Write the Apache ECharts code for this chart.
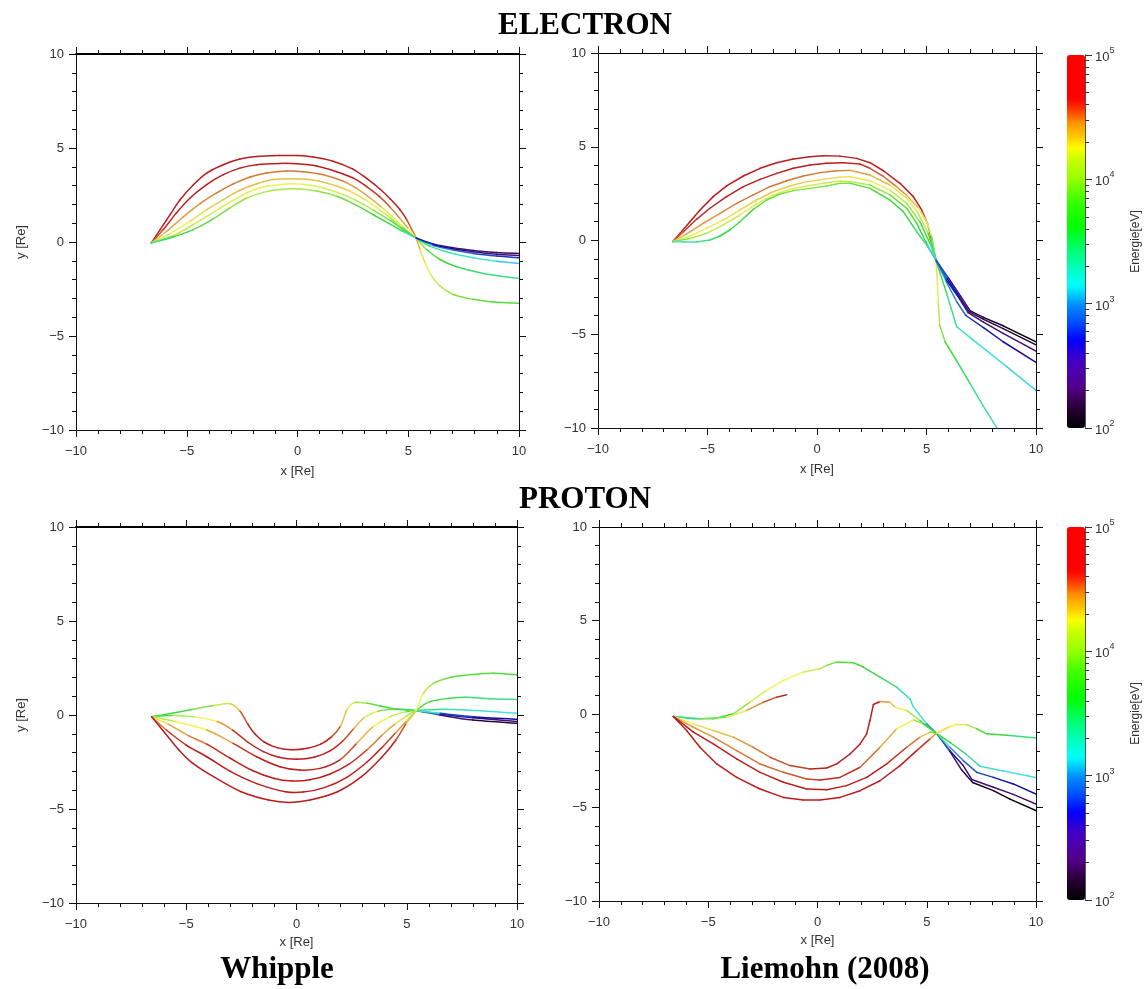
<!DOCTYPE html>
<html>
<head>
<meta charset="utf-8">
<script src="https://cdn.jsdelivr.net/npm/echarts@6/dist/echarts.min.js"></script>
<style>
  html, body { margin: 0; padding: 0; background: #ffffff; }
  #chart { width: 1145px; height: 989px; }
</style>
</head>
<body>
<div id="chart"></div>
<script>
// ---------------------------------------------------------------
// Drift trajectories. Each point: [x (Re), y (Re), log10(E / eV)]
// ---------------------------------------------------------------

// Electrons, Whipple model
const electronWhippleTracks = [
  [[-6.6,-0.05,4.65],[-6.2,0.66,4.75],[-5.75,1.46,4.8],[-5.3,2.25,4.85],[-4.7,3.05,4.9],[-4.1,3.67,4.92],[-3.35,4.11,4.95],[-2.6,4.41,4.95],[-1.85,4.55,4.95],[-0.8,4.6,4.95],[0,4.6,4.95],[0.7,4.52,4.95],[1.6,4.3,4.92],[2.5,3.88,4.9],[3.12,3.38,4.85],[3.72,2.82,4.8],[4.18,2.3,4.75],[4.63,1.72,4.7],[4.93,1.19,4.62],[5.16,0.66,4.55],[5.35,0.22,4.5],[5.53,-0.4,4.38],[5.76,-1.1,4.3],[6.06,-1.81,4.22],[6.43,-2.34,4.12],[7.03,-2.79,4.0],[7.94,-3.05,3.88],[8.84,-3.19,3.8],[10,-3.26,3.75]],
  [[-6.6,-0.05,4.45],[-6.06,0.66,4.55],[-5.46,1.55,4.62],[-4.85,2.34,4.68],[-4.1,3.05,4.7],[-3.35,3.58,4.72],[-2.6,3.93,4.72],[-1.84,4.11,4.72],[-0.79,4.18,4.72],[0,4.16,4.72],[0.86,4.04,4.72],[1.77,3.74,4.7],[2.52,3.4,4.68],[3.12,2.95,4.65],[3.72,2.4,4.6],[4.18,1.85,4.55],[4.63,1.25,4.48],[5.0,0.72,4.4],[5.35,0.22,4.25],[5.83,-0.4,3.95],[6.43,-0.93,3.75],[7.19,-1.32,3.62],[8.24,-1.63,3.52],[9.14,-1.81,3.45],[10,-1.94,3.4]],
  [[-6.6,-0.05,4.3],[-5.91,0.57,4.38],[-5.15,1.34,4.42],[-4.4,2.04,4.45],[-3.65,2.61,4.48],[-2.9,3.09,4.5],[-2.14,3.46,4.5],[-1.39,3.67,4.5],[-0.49,3.77,4.5],[0.26,3.74,4.5],[1.17,3.58,4.5],[2.07,3.23,4.48],[2.67,2.85,4.45],[3.27,2.35,4.42],[3.8,1.85,4.38],[4.25,1.38,4.3],[4.75,0.8,4.2],[5.35,0.22,4.0],[5.98,-0.22,3.6],[6.88,-0.57,3.35],[7.94,-0.84,3.22],[8.99,-1.02,3.15],[10,-1.14,3.1]],
  [[-6.6,-0.05,4.0],[-5.76,0.45,4.15],[-4.85,1.1,4.25],[-4.1,1.72,4.3],[-3.35,2.25,4.33],[-2.6,2.75,4.35],[-1.84,3.1,4.36],[-1.09,3.32,4.36],[-0.19,3.37,4.36],[0.56,3.32,4.36],[1.47,3.09,4.35],[2.37,2.7,4.33],[3.12,2.2,4.3],[3.72,1.7,4.25],[4.18,1.3,4.15],[4.7,0.75,4.0],[5.35,0.22,3.7],[6.13,-0.19,3.2],[7.03,-0.43,3.0],[7.94,-0.61,2.9],[8.99,-0.75,2.85],[10,-0.84,2.8]],
  [[-6.6,-0.05,3.6],[-5.61,0.34,3.9],[-4.7,0.93,4.05],[-3.8,1.58,4.15],[-2.9,2.22,4.2],[-2.14,2.7,4.22],[-1.39,2.96,4.24],[-0.49,3.09,4.25],[0.26,3.07,4.25],[1.17,2.87,4.22],[2.07,2.52,4.18],[2.67,2.2,4.12],[3.42,1.7,4.05],[4.18,1.15,3.9],[4.78,0.65,3.75],[5.35,0.22,3.5],[6.13,-0.14,2.9],[7.03,-0.36,2.7],[7.94,-0.52,2.6],[8.99,-0.65,2.52],[10,-0.72,2.48]],
  [[-6.6,-0.05,3.25],[-6.1,0.1,3.4],[-5.61,0.27,3.5],[-4.7,0.66,3.65],[-3.8,1.23,3.78],[-3.05,1.81,3.88],[-2.29,2.34,3.95],[-1.54,2.64,4.0],[-0.79,2.79,4.02],[0.11,2.82,4.02],[0.86,2.71,4.0],[1.77,2.43,3.92],[2.67,1.95,3.85],[3.42,1.45,3.75],[4.18,0.95,3.65],[4.78,0.55,3.55],[5.35,0.22,3.3],[6.13,-0.1,2.75],[7.03,-0.31,2.5],[7.94,-0.45,2.4],[8.99,-0.56,2.32],[10,-0.61,2.28]]
];

// Electrons, Liemohn (2008) model
const electronLiemohnTracks = [
  [[-6.59,-0.06,4.7],[-6.26,0.38,4.8],[-5.8,1.0,4.85],[-5.34,1.63,4.9],[-4.74,2.34,4.92],[-4.13,2.91,4.95],[-3.36,3.44,4.95],[-2.6,3.85,4.95],[-1.84,4.15,4.95],[-1.08,4.35,4.95],[-0.32,4.47,4.95],[0.29,4.52,4.95],[1.05,4.5,4.95],[1.81,4.38,4.92],[2.42,4.15,4.9],[3.03,3.72,4.85],[3.79,3.05,4.8],[4.4,2.34,4.72],[4.78,1.63,4.65],[5.04,0.92,4.6],[5.24,0.03,4.55],[5.43,-1.04,4.45],[5.49,-2.11,4.3],[5.54,-3.35,4.22],[5.6,-4.5,4.1],[5.85,-5.4,3.92],[6.37,-6.4,3.7],[7.0,-7.65,3.5],[7.6,-8.85,3.4],[8.2,-9.97,3.35]],
  [[-6.59,-0.06,4.5],[-6.1,0.47,4.55],[-5.5,1.13,4.6],[-4.89,1.72,4.62],[-4.13,2.34,4.65],[-3.36,2.87,4.65],[-2.6,3.26,4.65],[-1.84,3.58,4.65],[-1.08,3.85,4.65],[-0.32,4.03,4.65],[0.44,4.12,4.65],[1.2,4.15,4.65],[1.96,4.08,4.62],[2.42,3.85,4.6],[3.03,3.42,4.55],[3.6,2.9,4.5],[4.1,2.4,4.45],[4.62,1.75,4.38],[5.01,1.0,4.3],[5.24,0.2,4.2],[5.43,-1.04,3.9],[5.92,-2.82,3.6],[6.38,-4.6,3.4],[7.14,-5.31,3.3],[8.66,-6.73,3.18],[10,-8.0,3.12]],
  [[-6.59,-0.06,4.35],[-5.95,0.35,4.4],[-5.19,0.92,4.42],[-4.43,1.45,4.45],[-3.67,1.98,4.48],[-2.91,2.43,4.5],[-2.15,2.87,4.5],[-1.38,3.19,4.5],[-0.62,3.44,4.5],[0.14,3.62,4.5],[0.9,3.72,4.5],[1.51,3.74,4.48],[2.42,3.49,4.45],[3.33,2.96,4.38],[4.1,2.25,4.3],[4.62,1.45,4.2],[5.08,0.38,4.05],[5.43,-1.04,3.6],[5.9,-2.2,3.2],[6.4,-3.3,3.0],[6.8,-4.0,2.9],[7.6,-4.65,2.8],[8.5,-5.4,2.72],[10,-6.5,2.65]],
  [[-6.59,-0.06,4.1],[-5.8,0.24,4.2],[-5.04,0.65,4.25],[-4.28,1.09,4.28],[-3.52,1.63,4.3],[-2.76,2.16,4.32],[-2.0,2.6,4.33],[-1.23,2.91,4.33],[-0.47,3.14,4.33],[0.29,3.26,4.33],[1.05,3.38,4.32],[1.51,3.4,4.3],[2.42,3.19,4.28],[3.33,2.69,4.22],[4.1,1.98,4.1],[4.7,1.0,3.95],[5.16,-0.15,3.7],[5.43,-1.04,3.3],[5.9,-2.1,2.95],[6.5,-3.1,2.75],[6.9,-3.85,2.6],[7.6,-4.35,2.48],[8.5,-4.95,2.42],[10,-5.9,2.38]],
  [[-6.59,-0.06,3.7],[-5.8,0.11,3.9],[-5.04,0.38,4.0],[-4.28,0.83,4.1],[-3.52,1.36,4.15],[-2.76,1.95,4.2],[-2.0,2.43,4.2],[-1.23,2.73,4.2],[-0.47,2.91,4.2],[0.29,3.05,4.18],[1.05,3.17,4.15],[1.51,3.14,4.12],[2.42,2.96,4.05],[3.33,2.43,3.95],[4.1,1.71,3.85],[4.55,0.92,3.75],[5.08,-0.33,3.6],[5.43,-1.04,3.2],[5.95,-2.05,2.9],[6.5,-3.0,2.7],[6.95,-3.8,2.5],[7.6,-4.2,2.35],[8.5,-4.7,2.25],[10,-5.57,2.2]],
  [[-6.59,-0.06,3.2],[-6.1,-0.08,3.25],[-5.5,-0.08,3.3],[-4.89,0.03,3.4],[-4.43,0.24,3.5],[-3.98,0.56,3.58],[-3.52,1.0,3.65],[-2.91,1.66,3.72],[-2.3,2.16,3.8],[-1.69,2.48,3.85],[-1.08,2.66,3.88],[-0.32,2.78,3.9],[0.44,2.91,3.9],[1.05,3.05,3.9],[1.51,3.05,3.88],[2.42,2.78,3.82],[3.33,2.16,3.72],[3.94,1.54,3.65],[4.4,0.74,3.6],[4.55,0.47,3.55],[5.01,-0.24,3.45],[5.43,-1.04,3.1],[6.0,-2.0,2.85],[6.55,-2.95,2.6],[7.0,-3.75,2.4],[7.6,-4.1,2.2],[8.5,-4.55,2.08],[10,-5.41,2.02]]
];

// Protons, Whipple model
const protonWhippleTracks = [
  [[-6.57,-0.09,3.45],[-5.64,0.09,3.55],[-4.7,0.3,3.7],[-3.76,0.5,3.9],[-3.0,0.6,4.15],[-2.56,0.2,4.35],[-2.2,-0.5,4.55],[-1.9,-0.98,4.65],[-1.45,-1.45,4.75],[-0.85,-1.75,4.8],[-0.2,-1.85,4.82],[0.5,-1.77,4.82],[1.1,-1.55,4.78],[1.6,-1.15,4.7],[2.0,-0.58,4.55],[2.3,0.3,4.35],[2.64,0.66,4.2],[3.2,0.62,4.0],[3.8,0.48,3.8],[4.5,0.32,3.6],[5.42,0.23,3.35],[6.5,0.0,2.85],[8.0,-0.27,2.45],[10,-0.44,2.2]],
  [[-6.57,-0.09,3.55],[-5.6,-0.02,3.8],[-4.6,-0.1,4.05],[-3.6,-0.35,4.25],[-2.9,-0.8,4.45],[-2.2,-1.45,4.6],[-1.5,-1.95,4.72],[-0.8,-2.25,4.8],[0,-2.36,4.85],[0.8,-2.25,4.85],[1.5,-1.92,4.8],[2.1,-1.38,4.7],[2.6,-0.72,4.55],[3.1,-0.12,4.38],[3.7,0.2,4.2],[4.5,0.3,3.9],[5.42,0.23,3.6],[6.5,0.05,3.0],[8.0,-0.15,2.6],[10,-0.35,2.4]],
  [[-6.57,-0.09,3.9],[-5.5,-0.35,4.1],[-4.07,-0.8,4.25],[-2.87,-1.51,4.42],[-1.81,-2.22,4.6],[-0.75,-2.75,4.72],[0.16,-2.93,4.78],[1.07,-2.84,4.78],[1.97,-2.39,4.72],[2.73,-1.51,4.55],[3.48,-0.62,4.38],[4.24,-0.09,4.25],[4.99,0.18,4.1],[5.42,0.23,3.8],[6.51,0.09,3.2],[8.02,-0.09,2.85],[10,-0.23,2.7]],
  [[-6.57,-0.09,4.15],[-5.8,-0.5,4.3],[-4.9,-1.1,4.42],[-4.07,-1.55,4.5],[-3.0,-2.3,4.62],[-2.0,-2.95,4.72],[-1.0,-3.38,4.8],[-0.2,-3.51,4.85],[0.6,-3.45,4.85],[1.5,-3.15,4.8],[2.4,-2.6,4.72],[3.2,-1.85,4.6],[3.9,-1.05,4.5],[4.5,-0.45,4.4],[5.0,-0.05,4.3],[5.42,0.23,4.0],[6.51,0.3,3.45],[7.72,0.27,3.3],[8.93,0.18,3.2],[10,0.09,3.15]],
  [[-6.57,-0.09,4.35],[-5.9,-0.8,4.5],[-5.0,-1.6,4.6],[-4.07,-2.22,4.7],[-3.0,-3.0,4.8],[-1.8,-3.65,4.85],[-0.5,-4.08,4.9],[0.3,-4.1,4.9],[1.3,-3.85,4.88],[2.3,-3.3,4.82],[3.2,-2.5,4.75],[3.9,-1.7,4.68],[4.5,-0.95,4.58],[5.0,-0.3,4.45],[5.42,0.23,4.1],[6.05,0.71,3.75],[6.96,0.89,3.6],[7.72,0.94,3.52],[8.77,0.87,3.45],[10,0.83,3.4]],
  [[-6.57,-0.09,4.55],[-5.95,-0.98,4.7],[-5.33,-1.86,4.8],[-4.7,-2.57,4.85],[-3.76,-3.28,4.9],[-2.51,-4.08,4.95],[-1.27,-4.52,4.95],[-0.33,-4.65,4.95],[0.61,-4.52,4.95],[1.86,-4.08,4.92],[2.95,-3.28,4.88],[3.89,-2.22,4.8],[4.51,-1.33,4.7],[4.98,-0.44,4.55],[5.42,0.23,4.35],[5.75,1.15,4.25],[6.21,1.68,4.1],[6.96,2.0,3.9],[8.02,2.16,3.8],[8.93,2.22,3.75],[10,2.13,3.72]]
];

// Protons, Liemohn (2008) model
const protonLiemohnTracks = [
  [[-6.6,-0.13,3.2],[-5.68,-0.26,3.3],[-4.77,-0.26,3.4],[-3.85,0.01,3.62],[-3.09,0.63,3.95],[-2.33,1.26,4.18],[-1.56,1.8,4.25],[-0.65,2.24,4.25],[0.11,2.42,4.15],[0.42,2.6,4.05],[0.88,2.78,3.9],[1.64,2.74,3.75],[2.1,2.51,3.7],[2.86,1.97,3.62],[3.62,1.44,3.5],[4.23,0.81,3.35],[4.39,0.37,3.25],[5.0,-0.53,3.15],[5.45,-1.03,3.0],[6.06,-2.0,2.7],[6.6,-3.0,2.45],[7.1,-3.66,2.25],[8.05,-4.1,2.12],[8.81,-4.55,2.05],[10,-5.17,2.0]],
  [[-6.6,-0.13,3.25],[-5.38,-0.26,3.45],[-4.16,-0.17,3.9],[-3.24,0.19,4.2],[-2.48,0.63,4.45],[-1.87,0.9,4.55],[-1.41,1.03,4.62]],
  [[-6.6,-0.13,4.2],[-5.68,-0.53,4.25],[-4.77,-0.88,4.3],[-3.85,-1.24,4.35],[-2.94,-1.78,4.45],[-2.17,-2.31,4.5],[-1.26,-2.76,4.55],[-0.34,-2.94,4.58],[0.42,-2.89,4.65],[0.88,-2.67,4.75],[1.49,-2.14,4.8],[1.95,-1.6,4.82],[2.25,-1.06,4.82],[2.4,-0.35,4.82],[2.56,0.51,4.8],[2.86,0.67,4.7],[3.32,0.63,4.45],[3.55,0.36,4.35],[4.08,0.19,4.25],[4.69,-0.35,4.0],[5.45,-1.03,3.5],[6.06,-1.96,2.9],[6.67,-2.76,2.6],[7.06,-3.5,2.45],[8.05,-3.92,2.4],[8.96,-4.3,2.38],[10,-4.82,2.36]],
  [[-6.6,-0.13,4.4],[-5.68,-0.71,4.45],[-4.77,-1.24,4.45],[-3.7,-1.96,4.48],[-2.63,-2.67,4.5],[-1.56,-3.12,4.52],[-0.5,-3.48,4.55],[0.11,-3.53,4.58],[1.03,-3.39,4.62],[1.95,-2.85,4.62],[2.86,-1.78,4.52],[3.62,-0.8,4.4],[4.39,-0.31,4.25],[4.84,-0.53,4.0],[5.45,-1.03,3.6],[6.06,-1.78,3.2],[6.67,-2.49,3.0],[7.29,-3.12,2.9],[8.05,-3.39,2.82],[8.96,-3.74,2.75],[10,-4.28,2.7]],
  [[-6.6,-0.13,4.55],[-5.68,-0.97,4.65],[-4.77,-1.6,4.7],[-3.7,-2.4,4.72],[-2.63,-3.12,4.75],[-1.56,-3.65,4.78],[-0.5,-4.01,4.8],[0.42,-4.05,4.8],[1.33,-3.83,4.78],[2.25,-3.39,4.75],[3.17,-2.67,4.7],[4.08,-1.78,4.6],[4.69,-1.24,4.5],[5.15,-0.97,4.35],[5.45,-1.03,3.85],[6.1,-1.55,3.65],[6.8,-2.15,3.5],[7.44,-2.8,3.35],[8.5,-3.05,3.22],[10,-3.39,3.15]],
  [[-6.6,-0.13,4.6],[-5.99,-0.88,4.75],[-5.38,-1.78,4.82],[-4.61,-2.67,4.88],[-3.7,-3.39,4.9],[-2.63,-4.01,4.92],[-1.56,-4.46,4.95],[-0.65,-4.6,4.95],[0.11,-4.6,4.95],[1.03,-4.46,4.95],[1.95,-4.1,4.92],[2.86,-3.57,4.9],[3.78,-2.76,4.85],[4.54,-1.96,4.75],[5.15,-1.33,4.6],[5.45,-1.03,4.45],[6.06,-0.67,4.3],[6.37,-0.56,4.25],[6.83,-0.58,4.2],[7.29,-0.79,4.0],[7.74,-1.06,3.75],[8.81,-1.15,3.6],[10,-1.28,3.45]]
];

// Axis tick labels (Re) and colour-bar ticks (eV)
const positionTicks = [-10, -5, 0, 5, 10];
const energyTicks = [100, 1000, 10000, 100000];
const energyMinorTicks = [200, 300, 400, 500, 600, 700, 800, 900,
  2000, 3000, 4000, 5000, 6000, 7000, 8000, 9000,
  20000, 30000, 40000, 50000, 60000, 70000, 80000, 90000];

// Panel titles
const rowTitles = ['ELECTRON', 'PROTON'];
const columnTitles = ['Whipple', 'Liemohn (2008)'];

// ---------------------------------------------------------------
// Rainbow colour table over log10(E) = 2 .. 5
// ---------------------------------------------------------------
const colorAnchors = [
  [2.00, 0, 0, 0], [2.17, 42, 0, 56], [2.33, 85, 0, 140], [2.55, 64, 0, 200],
  [2.71, 0, 0, 255], [2.87, 0, 90, 255], [2.99, 0, 140, 255], [3.14, 0, 255, 255],
  [3.30, 0, 255, 180], [3.46, 0, 255, 100], [3.62, 0, 255, 0], [3.83, 60, 255, 0],
  [4.00, 150, 255, 0], [4.16, 200, 255, 0], [4.26, 255, 255, 0], [4.34, 255, 200, 0],
  [4.45, 255, 150, 0], [4.53, 255, 80, 0], [4.64, 255, 0, 0], [5.00, 255, 0, 0]
];
function tableColor(v) {
  for (let k = 1; k < colorAnchors.length; k++) {
    const a = colorAnchors[k - 1], b = colorAnchors[k];
    if (v <= b[0]) {
      const t = (v - a[0]) / (b[0] - a[0]);
      return [1, 2, 3].map(c => a[c] + (b[c] - a[c]) * t);
    }
  }
  const last = colorAnchors[colorAnchors.length - 1];
  return [last[1], last[2], last[3]];
}
const rgb = c => 'rgb(' + c.map(Math.round).join(',') + ')';
const barColors = [], lineColors = [];
for (let k = 0; k <= 60; k++) {
  const c = tableColor(2 + 3 * k / 60);
  barColors.push(rgb(c));
  // thin traces: slightly muted version of the same hue
  const lum = 0.299 * c[0] + 0.587 * c[1] + 0.114 * c[2];
  lineColors.push(rgb(c.map(x => x * 0.62 + lum * 0.38)));
}

// ---------------------------------------------------------------
// Layout
// ---------------------------------------------------------------
const SANS = '"Liberation Sans", Arial, sans-serif';
const SERIF = '"Liberation Serif", "Times New Roman", serif';
const panels = [
  { tracks: electronWhippleTracks, smooth: true, grid: { left: 76, top: 54, width: 443, height: 376 }, yName: true, thickTop: true, xNameGap: 35 },
  { tracks: electronLiemohnTracks, smooth: false, grid: { left: 598, top: 53, width: 438, height: 375 }, yName: false, thickTop: false, xNameGap: 35 },
  { tracks: protonWhippleTracks, smooth: true, grid: { left: 76, top: 527, width: 441, height: 376 }, yName: true, thickTop: true, xNameGap: 33 },
  { tracks: protonLiemohnTracks, smooth: false, grid: { left: 599, top: 527, width: 437, height: 374 }, yName: false, thickTop: false, xNameGap: 33 }
];
const colorBars = [
  { left: 1067, top: 55, width: 18, height: 373 },
  { left: 1067, top: 527, width: 18, height: 373 }
];

const fmtPos = v => (v < 0 ? '\u2212' + Math.abs(v) : String(v));
const lineCol = '#111';
const tickStyle = { length: 7, lineStyle: { color: lineCol, width: 1 } };
const minorStyle = { show: true, splitNumber: 5, length: 4, lineStyle: { color: lineCol, width: 1 } };

const grids = [], xAxes = [], yAxes = [], series = [], trackSeriesIdx = [];

// Segment renderer: straight for the stepped model output, a Catmull-Rom
// style Bezier through the neighbouring samples for the smooth model output.
function makeRenderer(track, smooth) {
  return function (params, api) {
    const i = params.dataIndex;
    if (i === 0) return null;
    const px = j => {
      const q = track[Math.max(0, Math.min(track.length - 1, j))];
      return api.coord([q[0], q[1]]);
    };
    const p1 = px(i - 1), p2 = px(i);
    const style = { stroke: api.visual('color'), lineWidth: 1.5, lineCap: 'round', fill: null };
    if (!smooth) {
      return { type: 'line', shape: { x1: p1[0], y1: p1[1], x2: p2[0], y2: p2[1] }, style: style };
    }
    const p0 = px(i - 2), p3 = px(i + 1);
    return {
      type: 'bezierCurve',
      shape: {
        x1: p1[0], y1: p1[1], x2: p2[0], y2: p2[1],
        cpx1: p1[0] + (p2[0] - p0[0]) / 6, cpy1: p1[1] + (p2[1] - p0[1]) / 6,
        cpx2: p2[0] - (p3[0] - p1[0]) / 6, cpy2: p2[1] - (p3[1] - p1[1]) / 6
      },
      style: style
    };
  };
}

panels.forEach((p, g) => {
  grids.push(Object.assign({ containLabel: false }, p.grid));
  const common = {
    gridIndex: g, type: 'value', min: -10, max: 10, interval: 5,
    axisTick: tickStyle, minorTick: minorStyle,
    splitLine: { show: false }, minorSplitLine: { show: false }
  };
  xAxes.push(Object.assign({}, common, {
    position: 'bottom',
    axisLine: { onZero: false, lineStyle: { color: lineCol, width: 1 } },
    axisLabel: { customValues: positionTicks, color: '#333', fontSize: 13, fontFamily: SANS, margin: 15, formatter: fmtPos },
    name: 'x [Re]', nameLocation: 'middle', nameGap: p.xNameGap,
    nameTextStyle: { color: '#333', fontSize: 13, fontFamily: SANS }
  }));
  xAxes.push(Object.assign({}, common, {
    position: 'top',
    axisLine: { onZero: false, lineStyle: { color: '#000', width: p.thickTop ? 2 : 1 } },
    axisLabel: { show: false }
  }));
  yAxes.push(Object.assign({}, common, {
    position: 'left',
    axisLine: { onZero: false, lineStyle: { color: lineCol, width: 1 } },
    axisLabel: { customValues: positionTicks, color: '#333', fontSize: 13, fontFamily: SANS, margin: 12, formatter: fmtPos },
    name: p.yName ? 'y [Re]' : '', nameLocation: 'middle', nameGap: 48,
    nameTextStyle: { color: '#333', fontSize: 13, fontFamily: SANS }
  }));
  yAxes.push(Object.assign({}, common, {
    position: 'right',
    axisLine: { onZero: false, lineStyle: { color: lineCol, width: 1 } },
    axisLabel: { show: false }
  }));

  p.tracks.forEach(track => {
    trackSeriesIdx.push(series.length);
    series.push({
      type: 'custom',
      coordinateSystem: 'cartesian2d',
      xAxisIndex: 2 * g, yAxisIndex: 2 * g,
      data: track,
      encode: { x: 0, y: 1 },
      silent: true,
      clip: true,
      renderItem: makeRenderer(track, p.smooth)
    });
  });
});

// Colour-bar axes (log10 energy): one grid for the decade ticks and labels,
// an overlapping one for the minor ticks.
const barRich = {
  b: { fontSize: 13, fontFamily: SANS, color: '#333', lineHeight: 18, verticalAlign: 'bottom' },
  s: { fontSize: 9, fontFamily: SANS, color: '#333', lineHeight: 18, verticalAlign: 'top' }
};
colorBars.forEach(cb => {
  const gMajor = grids.length;
  grids.push(Object.assign({}, cb));
  xAxes.push({ gridIndex: gMajor, type: 'value', min: 0, max: 1, show: false });
  yAxes.push({
    gridIndex: gMajor, type: 'value', min: 2, max: 5, position: 'right',
    axisLine: { show: true, onZero: false, lineStyle: { color: '#555', width: 1 } },
    axisTick: { show: true, length: 7, customValues: energyTicks.map(Math.log10), lineStyle: { color: '#333' } },
    axisLabel: {
      show: true, margin: 10, showMinLabel: true, showMaxLabel: true,
      customValues: energyTicks.map(Math.log10),
      formatter: v => '{b|10}{s|' + Math.round(v) + '}', rich: barRich
    },
    splitLine: { show: false },
    name: 'Energie[eV]', nameLocation: 'middle', nameRotate: 90, nameGap: 45,
    nameTextStyle: { color: '#333', fontSize: 12, fontFamily: SANS }
  });
  const gMinor = grids.length;
  grids.push(Object.assign({}, cb));
  xAxes.push({ gridIndex: gMinor, type: 'value', min: 0, max: 1, show: false });
  yAxes.push({
    gridIndex: gMinor, type: 'value', min: 2, max: 5, position: 'right',
    axisLine: { show: true, onZero: false, lineStyle: { color: '#555', width: 1 } },
    axisTick: { show: true, length: 4, customValues: energyMinorTicks.map(Math.log10), lineStyle: { color: '#333' } },
    axisLabel: { show: false },
    splitLine: { show: false }
  });
});

const visualMaps = [
  { type: 'continuous', show: false, min: 2, max: 5, dimension: 2,
    seriesIndex: trackSeriesIdx, inRange: { color: lineColors } }
];
colorBars.forEach(cb => {
  visualMaps.push({
    type: 'continuous', show: true, min: 2, max: 5, seriesIndex: [],
    left: cb.left, top: cb.top, padding: 0,
    itemWidth: cb.width, itemHeight: cb.height,
    calculable: false, hoverLink: false, realtime: false,
    orient: 'vertical', inRange: { color: barColors }
  });
});

const titleFont = 'bold 31px ' + SERIF;
const graphics = [
  { type: 'text', x: 585, y: 26, style: { text: rowTitles[0], font: titleFont, fill: '#000', align: 'center', verticalAlign: 'middle' } },
  { type: 'text', x: 585, y: 500, style: { text: rowTitles[1], font: titleFont, fill: '#000', align: 'center', verticalAlign: 'middle' } },
  { type: 'text', x: 277, y: 970, style: { text: columnTitles[0], font: titleFont, fill: '#000', align: 'center', verticalAlign: 'middle' } },
  { type: 'text', x: 825, y: 970, style: { text: columnTitles[1], font: titleFont, fill: '#000', align: 'center', verticalAlign: 'middle' } }
];

const chart = echarts.init(document.getElementById('chart'), null, { renderer: 'canvas' });
chart.setOption({
  backgroundColor: '#ffffff',
  animation: false,
  grid: grids,
  xAxis: xAxes,
  yAxis: yAxes,
  visualMap: visualMaps,
  graphic: graphics,
  series: series
});
</script>
</body>
</html>
